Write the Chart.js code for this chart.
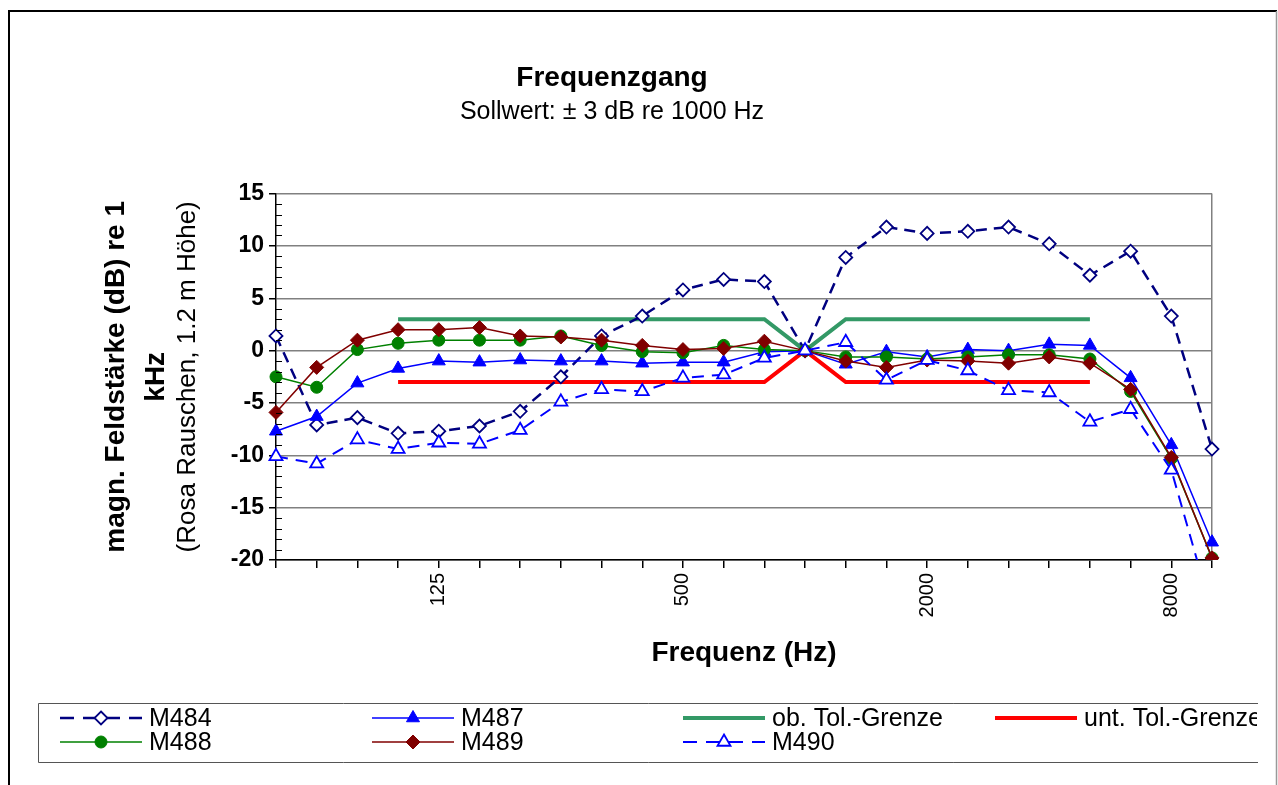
<!DOCTYPE html>
<html>
<head>
<meta charset="utf-8">
<title>Frequenzgang</title>
<script src="https://cdn.jsdelivr.net/npm/chart.js@4.4.0/dist/chart.umd.min.js"></script>
<style>
  html, body { margin: 0; padding: 0; background: #fff; }
  canvas { display: block; }
</style>
</head>
<body>
<canvas id="chartFrequenz" width="1278" height="785"></canvas>
<script>
// Terzbänder (Hz)
var frequencies = ['50', '63', '80', '100', '125', '160', '200', '250', '315', '400', '500', '630',
    '800', '1000', '1250', '1600', '2000', '2500', '3150', '4000', '5000', '6300', '8000', '10000'];
var shownFrequencies = ['125', '500', '2000', '8000'];

// Messwerte (dB re 1 kHz)
var m484 = [1.4, -7.1, -6.4, -7.9, -7.7, -7.2, -5.8, -2.5, 1.4, 3.3, 5.8, 6.8,
    6.6, 0, 8.9, 11.8, 11.2, 11.4, 11.8, 10.2, 7.2, 9.5, 3.3, -9.4];
var m487 = [-7.7, -6.3, -3.1, -1.7, -1.0, -1.1, -0.9, -1.0, -1.0, -1.2, -1.1, -1.1,
    -0.1, 0, -1.3, -0.1, -0.6, 0.1, 0, 0.6, 0.5, -2.6, -9.0, -18.3];
var m488 = [-2.5, -3.5, 0.1, 0.7, 1.0, 1.0, 1.0, 1.4, 0.5, -0.1, -0.2, 0.5,
    0.1, 0, -0.6, -0.6, -0.8, -0.6, -0.4, -0.4, -0.8, -3.9, -10.3, -19.8];
var m489 = [-5.9, -1.6, 1.0, 2.0, 2.0, 2.2, 1.4, 1.3, 1.0, 0.5, 0.1, 0.2,
    0.9, 0, -1.0, -1.6, -0.9, -1.0, -1.2, -0.6, -1.2, -3.7, -10.2, -19.8];
var m490 = [-10.1, -10.8, -8.5, -9.4, -8.8, -8.9, -7.6, -4.9, -3.7, -3.9, -2.6, -2.3,
    -0.7, 0, 0.8, -2.8, -0.9, -1.9, -3.8, -4.0, -6.8, -5.6, -11.4, -25];

// Toleranzgrenzen
var tolUpper = [null, null, null, 3, 3, 3, 3, 3, 3, 3, 3, 3, 3, 0, 3, 3, 3, 3, 3, 3, 3, null, null, null];
var tolLower = [null, null, null, -3, -3, -3, -3, -3, -3, -3, -3, -3, -3, 0, -3, -3, -3, -3, -3, -3, -3, null, null, null];

var yMin = -20;
var yMax = 15;

var fontFamily = "'Liberation Sans', Arial, Helvetica, sans-serif";
Chart.defaults.font.family = fontFamily;
Chart.defaults.color = '#000';

var datasets = [{
    label: 'M484',
    data: m484,
    borderColor: '#000080',
    borderWidth: 2.5,
    borderDash: [11, 7],
    pointStyle: 'rectRot',
    pointRadius: 6.5,
    pointBackgroundColor: '#fff',
    pointBorderColor: '#000080',
    pointBorderWidth: 1.8,
    order: 6
}, {
    label: 'M487',
    data: m487,
    borderColor: '#0000FF',
    borderWidth: 1.5,
    pointStyle: 'triangle',
    pointRadius: 7.5,
    pointBackgroundColor: '#0000FF',
    pointBorderColor: '#0000FF',
    pointBorderWidth: 1,
    order: 5
}, {
    label: 'ob. Tol.-Grenze',
    data: tolUpper,
    borderColor: '#339966',
    borderWidth: 4,
    pointRadius: 0,
    order: 9
}, {
    label: 'unt. Tol.-Grenze',
    data: tolLower,
    borderColor: '#FF0000',
    borderWidth: 4,
    pointRadius: 0,
    order: 8
}, {
    label: 'M488',
    data: m488,
    borderColor: '#008000',
    borderWidth: 1.5,
    pointStyle: 'circle',
    pointRadius: 6,
    pointBackgroundColor: '#008000',
    pointBorderColor: '#008000',
    pointBorderWidth: 1,
    order: 4
}, {
    label: 'M489',
    data: m489,
    borderColor: '#800000',
    borderWidth: 1.5,
    pointStyle: 'rectRot',
    pointRadius: 7,
    pointBackgroundColor: '#800000',
    pointBorderColor: '#800000',
    pointBorderWidth: 1,
    order: 3
}, {
    label: 'M490',
    data: m490,
    borderColor: '#0000FF',
    borderWidth: 2,
    borderDash: [12, 8],
    pointStyle: 'triangle',
    pointRadius: 7.5,
    pointBackgroundColor: '#fff',
    pointBorderColor: '#0000FF',
    pointBorderWidth: 1.8,
    order: 2
}];

// Marker für die Legende nachzeichnen
function drawMarker(ctx, ds, x, y) {
    var r = ds.pointRadius;
    if (!r) return;
    ctx.save();
    ctx.setLineDash([]);
    ctx.fillStyle = ds.pointBackgroundColor;
    ctx.strokeStyle = ds.pointBorderColor;
    ctx.lineWidth = ds.pointBorderWidth;
    ctx.beginPath();
    if (ds.pointStyle === 'circle') {
        ctx.arc(x, y, r, 0, Math.PI * 2);
    } else if (ds.pointStyle === 'triangle') {
        ctx.moveTo(x, y - r);
        ctx.lineTo(x + r * 0.866, y + r * 0.5);
        ctx.lineTo(x - r * 0.866, y + r * 0.5);
    } else {
        ctx.moveTo(x, y - r);
        ctx.lineTo(x + r, y);
        ctx.lineTo(x, y + r);
        ctx.lineTo(x - r, y);
    }
    ctx.closePath();
    ctx.fill();
    ctx.stroke();
    ctx.restore();
}

// Rahmen, kleine Hilfsstriche und Excel-artige Legende
var frameAndLegend = {
    id: 'frameAndLegend',
    beforeDraw: function (chart) {
        var ctx = chart.ctx;
        ctx.save();
        ctx.fillStyle = '#fff';
        ctx.fillRect(0, 0, chart.width, chart.height);
        ctx.strokeStyle = '#000';
        ctx.lineWidth = 2;
        ctx.beginPath();
        ctx.moveTo(9, 800);
        ctx.lineTo(9, 11);
        ctx.lineTo(1277, 11);
        ctx.stroke();
        ctx.strokeStyle = '#999';
        ctx.lineWidth = 1.5;
        ctx.beginPath();
        ctx.moveTo(1276.5, 11);
        ctx.lineTo(1276.5, 800);
        ctx.stroke();
        ctx.restore();
    },
    afterDatasetsDraw: function (chart) {
        // Nebenteilstriche der y-Achse nach innen
        var ctx = chart.ctx;
        var y = chart.scales.y;
        ctx.save();
        ctx.strokeStyle = '#000';
        ctx.lineWidth = 1;
        ctx.beginPath();
        yTickValues.forEach(function (t) {
            if (t % 5 !== 0) {
                var py = Math.round(y.getPixelForValue(t)) + 0.5;
                ctx.moveTo(y.right, py);
                ctx.lineTo(y.right + 6, py);
            }
        });
        ctx.stroke();
        ctx.restore();
    },
    afterDraw: function (chart) {
        var ctx = chart.ctx;
        var columns = [60, 372, 683, 995];
        var rows = [718, 742];
        ctx.save();
        ctx.strokeStyle = '#555';
        ctx.lineWidth = 1;
        ctx.beginPath();
        ctx.moveTo(1258, 703.5);
        ctx.lineTo(38.5, 703.5);
        ctx.lineTo(38.5, 762.5);
        ctx.lineTo(1258, 762.5);
        ctx.stroke();
        ctx.beginPath();
        ctx.rect(0, 690, 1257, 90);
        ctx.clip();
        ctx.font = '25px ' + fontFamily;
        ctx.textBaseline = 'middle';
        ctx.fillStyle = '#000';
        chart.data.datasets.forEach(function (ds, i) {
            var x = columns[i % 4];
            var y = rows[Math.floor(i / 4)];
            ctx.save();
            ctx.strokeStyle = ds.borderColor;
            ctx.lineWidth = ds.borderWidth;
            ctx.setLineDash(ds.borderDash ? [14, 9] : []);
            ctx.beginPath();
            ctx.moveTo(x, y);
            ctx.lineTo(x + 82, y);
            ctx.stroke();
            ctx.restore();
            drawMarker(ctx, ds, x + 41, y);
            ctx.fillText(ds.label, x + 89, y + 1);
        });
        ctx.restore();
    }
};

var yTickValues = [];
for (var v = yMin; v <= yMax; v++) {
    yTickValues.push(v);
}

var ctx_chart = document.getElementById('chartFrequenz').getContext('2d');
var chart_frequenz = new Chart(ctx_chart, {
    type: 'line',
    data: {
        labels: frequencies,
        datasets: datasets
    },
    options: {
        responsive: false,
        animation: false,
        devicePixelRatio: 1,
        layout: {
            padding: { top: 12, left: 12, right: 66, bottom: 95 }
        },
        plugins: {
            legend: { display: false },
            tooltip: { enabled: false },
            title: {
                display: true,
                text: 'Frequenzgang',
                color: '#000',
                font: { size: 28, weight: 'bold' },
                padding: { top: 49, bottom: 3 }
            },
            subtitle: {
                display: true,
                text: 'Sollwert: ± 3 dB re 1000 Hz',
                color: '#000',
                font: { size: 25 },
                padding: { top: 0, bottom: 66 }
            }
        },
        scales: {
            x: {
                type: 'category',
                offset: false,
                grid: {
                    drawOnChartArea: true,
                    color: function (c) {
                        return c.index === frequencies.length - 1 ? '#808080' : 'rgba(0,0,0,0)';
                    },
                    tickColor: '#000',
                    tickLength: 8,
                    lineWidth: 1.5
                },
                border: { color: '#000', width: 1.5 },
                ticks: {
                    autoSkip: false,
                    minRotation: 90,
                    maxRotation: 90,
                    padding: 5,
                    color: '#000',
                    font: { size: 20 },
                    callback: function (value, index) {
                        var f = frequencies[index];
                        return shownFrequencies.indexOf(f) >= 0 ? f : '';
                    }
                },
                title: {
                    display: true,
                    text: 'Frequenz (Hz)',
                    color: '#000',
                    font: { size: 28, weight: 'bold' },
                    padding: { top: 4, bottom: 20 }
                },
                afterFit: function (scale) {
                    scale.height = 130;
                }
            },
            y: {
                type: 'linear',
                position: 'left',
                weight: 0,
                min: yMin,
                max: yMax,
                afterBuildTicks: function (axis) {
                    axis.ticks = yTickValues.map(function (t) { return { value: t }; });
                },
                grid: {
                    color: function (c) {
                        return c.tick && c.tick.value % 5 === 0 ? '#808080' : 'rgba(0,0,0,0)';
                    },
                    tickColor: function (c) {
                        return c.tick && c.tick.value % 5 === 0 ? '#000' : 'rgba(0,0,0,0)';
                    },
                    tickLength: 7,
                    lineWidth: 1.5
                },
                border: { color: '#000', width: 1.5 },
                ticks: {
                    autoSkip: false,
                    padding: 5,
                    color: '#000',
                    font: { size: 23, weight: 'bold' },
                    callback: function (value) {
                        return value % 5 === 0 ? value : '';
                    }
                },
                title: {
                    display: true,
                    text: '(Rosa Rauschen, 1.2 m Höhe)',
                    color: '#000',
                    font: { size: 26 },
                    padding: { top: 0, bottom: 0 }
                },
                afterFit: function (scale) {
                    scale.width = 104;
                }
            },
            yt: {
                type: 'linear',
                position: 'left',
                weight: 1,
                grid: { display: false },
                border: { display: false },
                ticks: { display: false },
                title: {
                    display: true,
                    text: ['magn. Feldstärke (dB) re 1', 'kHz'],
                    color: '#000',
                    font: { size: 28, weight: 'bold', lineHeight: 1.43 },
                    padding: { top: 84, bottom: 0 }
                },
                afterFit: function (scale) {
                    scale.width = 160;
                }
            }
        }
    },
    plugins: [frameAndLegend]
});
</script>
</body>
</html>
